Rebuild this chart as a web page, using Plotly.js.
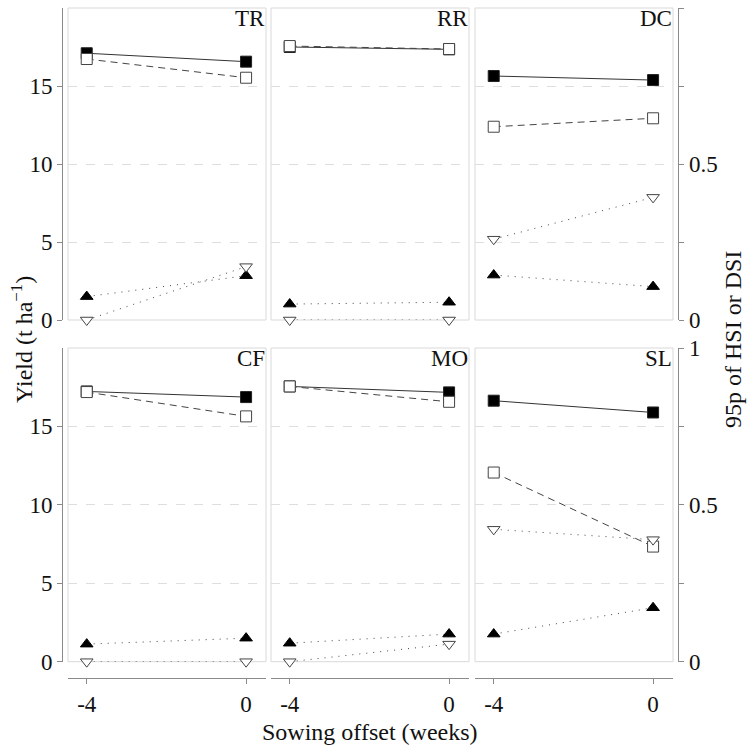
<!DOCTYPE html>
<html>
<head>
<meta charset="utf-8">
<script src="https://cdn.plot.ly/plotly-3.0.1.min.js"></script>
<style>html,body{margin:0;padding:0;background:#fff;}#chart{width:750px;height:747px;}</style>
</head>
<body>
<div id="chart"></div>
<script>
// Data
const panels = ["TR", "RR", "DC", "CF", "MO", "SL"];
const offsets = [-4, 0];
const xTickVals = [-4, 0];
const xTickText = ["-4", "0"];
const yTickVals = [0, 5, 10, 15];
const y2TickVals = [0, 0.5, 1];
const y2TickText = ["0", "0.5", "1"];
// Yield series (t ha-1)
const yieldFilled = [[17.1, 16.56], [17.5, 17.35], [15.64, 15.38], [17.23, 16.87], [17.55, 17.17], [16.64, 15.89]];
const yieldOpen   = [[16.73, 15.53], [17.56, 17.37], [12.39, 12.93], [17.19, 15.64], [17.55, 16.57], [12.06, 7.34]];
// 95p of HSI or DSI
const indexFilled = [[0.075, 0.142], [0.051, 0.057], [0.144, 0.107], [0.056, 0.075], [0.059, 0.088], [0.088, 0.172]];
const indexOpen   = [[0.0, 0.171], [0.0, 0.0], [0.259, 0.393], [0.0, 0.0], [0.0, 0.056], [0.422, 0.389]];

const FONT = "Liberation Serif, Times New Roman, serif";
const AX = "#8a8a8a";
const L = 40, R = 40, T = 8, B = 57;
const W = 750, H = 747;
const pw = W - L - R, ph = H - T - B;
const fx = p => (p - L) / pw;
const fy = p => (H - B - p) / ph;
const colPx = [[68, 266], [271, 469], [475, 673]];
const rowPx = [[8, 320], [348, 661.7]];
const TF = {family: FONT, size: 23, color: "#111"};

const data = [];
const layout = {
  width: W, height: H,
  margin: {l: L, r: R, t: T, b: B},
  paper_bgcolor: "#fff", plot_bgcolor: "rgba(0,0,0,0)",
  showlegend: false,
  font: {family: FONT, size: 23, color: "#111"},
  shapes: [], annotations: []
};

panels.forEach((name, i) => {
  const r = Math.floor(i / 3), c = i % 3;
  const n = i + 1, n2 = i + 7;
  const xa = "x" + (n === 1 ? "" : n), ya = "y" + (n === 1 ? "" : n), ya2 = "y" + n2;
  const xd = [fx(colPx[c][0]), fx(colPx[c][1])];
  const yd = [fy(rowPx[r][1]), fy(rowPx[r][0])];
  const xkey = "xaxis" + (n === 1 ? "" : n), ykey = "yaxis" + (n === 1 ? "" : n), y2key = "yaxis" + n2;
  const bottom = r === 1, left = c === 0, right = c === 2;
  layout[xkey] = {
    domain: xd, range: [-4.47, 0.5], anchor: bottom ? "free" : ya,
    showgrid: false, zeroline: false,
    showline: bottom, linecolor: AX, linewidth: 1,
    ticks: bottom ? "outside" : "", ticklen: 5, tickcolor: AX,
    tickvals: xTickVals, ticktext: xTickText, showticklabels: bottom,
    tickfont: TF, fixedrange: true
  };
  if (bottom) layout[xkey].position = fy(678.3);
  layout[ykey] = {
    domain: yd, range: [0, 20], anchor: left ? "free" : xa,
    showgrid: true, gridcolor: "#dedede", griddash: "dash", gridwidth: 1,
    zeroline: false, showline: left, linecolor: AX, linewidth: 1,
    ticks: left ? "outside" : "", ticklen: 5, tickcolor: AX,
    tickvals: yTickVals, showticklabels: left,
    tickfont: TF, fixedrange: true
  };
  if (left) layout[ykey].position = fx(62);
  layout[y2key] = {
    overlaying: ya, side: "right", range: [0, 1],
    anchor: right ? "free" : xa,
    showgrid: false, zeroline: false, visible: right,
    showline: right, linecolor: AX, linewidth: 1,
    ticks: right ? "outside" : "", ticklen: 5, tickcolor: AX,
    tickvals: y2TickVals, ticktext: y2TickText,
    minor: right ? {ticks: "outside", tick0: 0, dtick: 0.25, ticklen: 5, tickcolor: AX, showgrid: false} : undefined,
    tickfont: TF, fixedrange: true
  };
  if (!right) delete layout[y2key].minor;
  if (right) layout[y2key].position = fx(678.3);

  layout.shapes.push({type: "rect", xref: xa + " domain", yref: ya + " domain",
    x0: 0, x1: 1, y0: 0, y1: 1, line: {color: "#d9d9d9", width: 1}, layer: "below"});
  layout.annotations.push({text: name, xref: xa + " domain", yref: ya + " domain",
    x: 1, y: 1, xanchor: "right", yanchor: "top", showarrow: false, xshift: 1, yshift: 4,
    font: {family: FONT, size: 23, color: "#111"}});

  data.push({x: offsets, y: yieldFilled[i], xaxis: xa, yaxis: ya, type: "scatter", mode: "lines+markers",
    cliponaxis: false, line: {color: "#333", width: 1},
    marker: {symbol: "square", size: 11, color: "#000", line: {color: "#222", width: 1}}});
  data.push({x: offsets, y: yieldOpen[i], xaxis: xa, yaxis: ya, type: "scatter", mode: "lines+markers",
    cliponaxis: false, line: {color: "#444", width: 1, dash: "7px,5px"},
    marker: {symbol: "square", size: 11, color: "#fff", line: {color: "#444", width: 1}}});
  data.push({x: offsets, y: indexFilled[i], xaxis: xa, yaxis: ya2, type: "scatter", mode: "lines+markers",
    cliponaxis: false, line: {color: "#444", width: 1, dash: "1px,6px"},
    marker: {symbol: "triangle-up", size: 11, color: "#000", line: {color: "#000", width: 1}}});
  data.push({x: offsets, y: indexOpen[i], xaxis: xa, yaxis: ya2, type: "scatter", mode: "lines+markers",
    cliponaxis: false, line: {color: "#444", width: 1, dash: "1px,6px"},
    marker: {symbol: "triangle-down", size: 11, color: "#fff", line: {color: "#444", width: 1}}});
});

layout.annotations.push({text: "Yield (t ha<sup>−1</sup>)", xref: "paper", yref: "paper",
  x: fx(22), y: fy(340), xanchor: "center", yanchor: "middle", textangle: -90, showarrow: false,
  font: {family: FONT, size: 24, color: "#111"}});
layout.annotations.push({text: "95p of HSI or DSI", xref: "paper", yref: "paper",
  x: fx(733), y: fy(340), xanchor: "center", yanchor: "middle", textangle: -90, showarrow: false,
  font: {family: FONT, size: 24, color: "#111"}});
layout.annotations.push({text: "Sowing offset (weeks)", xref: "paper", yref: "paper",
  x: fx(370), y: fy(732), xanchor: "center", yanchor: "middle", showarrow: false,
  font: {family: FONT, size: 24, color: "#111"}});

Plotly.newPlot("chart", data, layout, {displayModeBar: false, staticPlot: true});
</script>
</body>
</html>
